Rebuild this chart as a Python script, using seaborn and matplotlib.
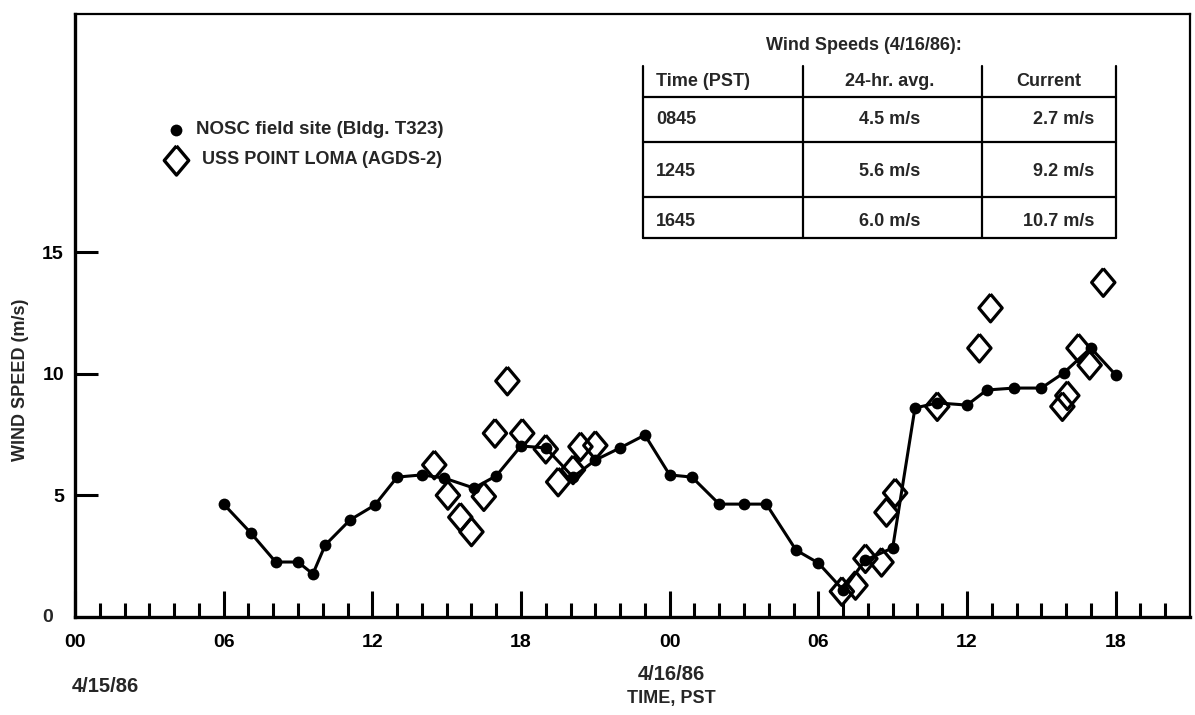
import matplotlib
matplotlib.use("Agg")
import matplotlib.pyplot as plt
from matplotlib.lines import Line2D
import seaborn as sns
import pandas as pd

# ---------------- data (hours since 00 PST, 4/15/86) ----------------
nosc_hours = [6.0, 7.1, 8.1, 9.0, 9.6, 10.1, 11.1, 12.1, 13.0, 14.0, 14.9, 16.1, 17.0,
              18.0, 19.0, 20.1, 21.0, 22.0, 23.0, 24.0, 24.9, 26.0, 27.0, 27.9, 29.1,
              30.0, 31.0, 31.9, 33.0, 33.9, 34.8, 36.0, 36.8, 37.9, 39.0, 39.9, 41.0, 42.0]
nosc_speed = [4.64, 3.45, 2.26, 2.26, 1.77, 2.96, 3.99, 4.60, 5.75, 5.84, 5.71, 5.30, 5.80,
              7.03, 6.95, 5.75, 6.45, 6.95, 7.48, 5.84, 5.75, 4.64, 4.64, 4.64, 2.75,
              2.22, 1.11, 2.34, 2.84, 8.59, 8.80, 8.71, 9.33, 9.41, 9.41, 10.03, 11.06, 9.95]

loma_hours = [14.5, 15.05, 15.55, 16.0, 16.5, 16.95, 17.45, 18.05, 19.0, 19.5, 20.1, 20.4,
              21.0, 30.95, 31.5, 31.9, 32.55, 32.75, 33.1, 34.8, 36.5, 36.95, 39.85, 40.05,
              40.5, 40.95, 41.5]
loma_speed = [6.25, 5.0, 4.1, 3.5, 4.95, 7.55, 9.7, 7.55, 6.9, 5.55, 6.05, 7.0, 7.05,
              1.05, 1.3, 2.4, 2.25, 4.3, 5.1, 8.65, 11.05, 12.7, 8.65, 9.1, 11.05, 10.35,
              13.75]

x_major_ticks = [0, 6, 12, 18, 24, 30, 36, 42]
x_major_labels = ["00", "06", "12", "18", "00", "06", "12", "18"]
y_ticks = [0, 5, 10, 15]
y_labels = ["0", "5", "10", "15"]

legend_labels = ["NOSC field site (Bldg. T323)", "USS POINT LOMA (AGDS-2)"]
table_title = "Wind Speeds (4/16/86):"
table_header = ["Time (PST)", "24-hr. avg.", "Current"]
table_time = ["0845", "1245", "1645"]
table_avg = ["4.5 m/s", "5.6 m/s", "6.0 m/s"]
table_current = ["2.7 m/s", "9.2 m/s", "10.7 m/s"]

# ---------------- styling ----------------
sns.set_style("white")
plt.rcParams["font.family"] = ["Liberation Sans", "DejaVu Sans"]
plt.rcParams["font.weight"] = "bold"

W, H = 1195, 715
fig = plt.figure(figsize=(W / 100, H / 100), dpi=100)


def fx(px):
    return px / W


def fy(py):
    return 1 - py / H


ax = fig.add_axes([fx(75), fy(617), fx(1190) - fx(75), fy(14) - fy(617)])

nosc_df = pd.DataFrame({"hour": nosc_hours, "speed": nosc_speed})
loma_df = pd.DataFrame({"hour": loma_hours, "speed": loma_speed})

sns.lineplot(data=nosc_df, x="hour", y="speed", ax=ax, color="black", linewidth=2.2,
             marker="o", markersize=8.5, markeredgewidth=0, sort=False, zorder=2)

diamond = [(0, 1), (0.84, 0), (0, -1), (-0.84, 0), (0, 1)]
sns.scatterplot(data=loma_df, x="hour", y="speed", ax=ax, marker=diamond, s=20 ** 2,
                color="black", linewidth=2.3, zorder=3)
coll = ax.collections[-1]
coll.set_facecolor("none")
coll.set_edgecolor("black")
coll.set_linewidth(2.3)

ax.set_xlim(0, 45)
ax.set_ylim(0, (617 - 14) / 24.33)
ax.set_xticks(x_major_ticks)
ax.set_xticklabels(x_major_labels)
ax.set_xticks([h for h in range(1, 45) if h % 6 != 0], minor=True)
ax.set_yticks(y_ticks[1:])
ax.set_yticklabels(y_labels[1:])
ax.set_xlabel("")
ax.set_ylabel("")

ax.tick_params(axis="x", which="both", bottom=True, top=False)
ax.tick_params(axis="y", which="both", left=True, right=False)
ax.tick_params(axis="x", which="major", direction="in", length=18.5, width=2.2,
               pad=12, labelsize=14, color="black", labelcolor="black")
ax.tick_params(axis="x", which="minor", direction="in", length=10, width=2.2,
               color="black")
ax.tick_params(axis="y", which="major", direction="in", length=16.5, width=2.2,
               pad=8, labelsize=14, color="black", labelcolor="black")
# zero label on y axis drawn at bottom-left
fig.text(fx(48), fy(617), y_labels[0], ha="center", va="center", fontsize=14,
         fontweight="bold")

for side in ["left", "bottom"]:
    ax.spines[side].set_linewidth(2.4)
    ax.spines[side].set_color("black")
for side in ["top", "right"]:
    ax.spines[side].set_linewidth(1.6)
    ax.spines[side].set_color("black")
ax.grid(False)
ax.set_facecolor("white")

# ---------------- axis texts ----------------
fig.text(fx(21), fy(380), "WIND SPEED (m/s)", rotation=90, ha="center", va="center",
         fontsize=13, fontweight="bold")
fig.text(fx(105), fy(686), "4/15/86", ha="center", va="center", fontsize=14.5,
         fontweight="bold")
fig.text(fx(671), fy(674), "4/16/86", ha="center", va="center", fontsize=14.5,
         fontweight="bold")
fig.text(fx(671), fy(699), "TIME, PST", ha="center", va="center", fontsize=13,
         fontweight="bold")

# ---------------- legend ----------------
fig.add_artist(Line2D([fx(176)], [fy(130)], marker="o", markersize=8.5, color="black",
                      markeredgewidth=0, linestyle="none", transform=fig.transFigure))
fig.add_artist(Line2D([fx(176)], [fy(160)], marker=diamond, markersize=21,
                      markerfacecolor="none", markeredgecolor="black",
                      markeredgewidth=2.4, linestyle="none", transform=fig.transFigure))
fig.text(fx(196), fy(130), legend_labels[0], ha="left", va="center", fontsize=13.5,
         fontweight="bold")
fig.text(fx(202), fy(160), legend_labels[1], ha="left", va="center", fontsize=13,
         fontweight="bold")

# ---------------- table ----------------
tx = [643, 803, 982, 1116]
ty = [66, 97, 142, 197, 238]
lw = 1.6
for x in tx:
    fig.add_artist(Line2D([fx(x), fx(x)], [fy(ty[0]), fy(ty[-1])], color="black",
                          linewidth=lw, transform=fig.transFigure))
for y in ty[1:]:
    fig.add_artist(Line2D([fx(tx[0]), fx(tx[-1])], [fy(y), fy(y)], color="black",
                          linewidth=lw, transform=fig.transFigure))

fig.text(fx(864), fy(46), table_title, ha="center", va="center", fontsize=13,
         fontweight="bold")
fig.text(fx(656), fy(82), table_header[0], ha="left", va="center", fontsize=13,
         fontweight="bold")
fig.text(fx(890), fy(82), table_header[1], ha="center", va="center", fontsize=13,
         fontweight="bold")
fig.text(fx(1049), fy(82), table_header[2], ha="center", va="center", fontsize=13,
         fontweight="bold")
row_y = [119, 172, 222]
for i, yy in enumerate(row_y):
    fig.text(fx(656), fy(yy), table_time[i], ha="left", va="center", fontsize=13,
             fontweight="bold")
    fig.text(fx(890), fy(yy), table_avg[i], ha="center", va="center", fontsize=13,
             fontweight="bold")
    fig.text(fx(1094), fy(yy), table_current[i], ha="right", va="center", fontsize=13,
             fontweight="bold")

fig.savefig("out.png", dpi=100, facecolor="white")
